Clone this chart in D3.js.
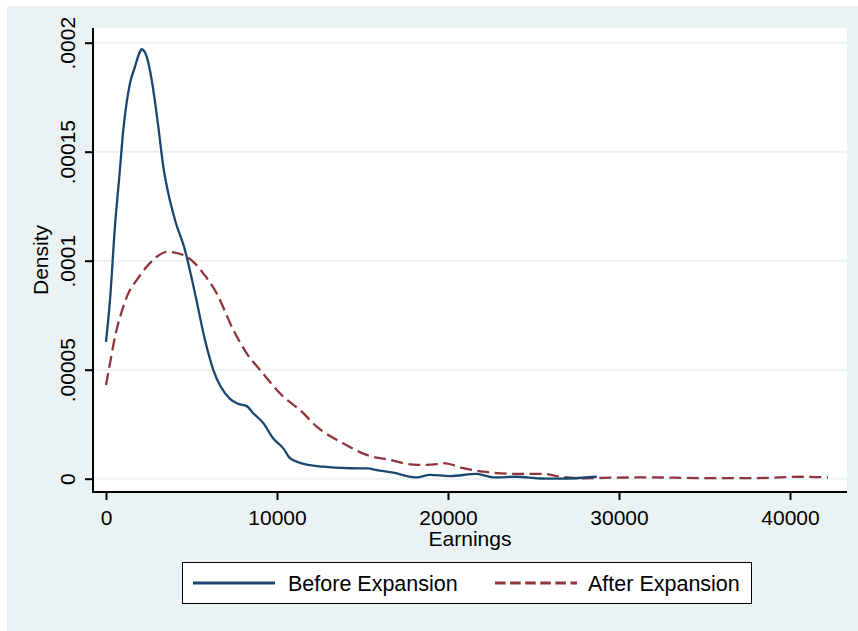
<!DOCTYPE html>
<html>
<head>
<meta charset="utf-8">
<script src="https://d3js.org/d3.v7.min.js"></script>
<style>
  body { margin: 0; background: #ffffff; }
  text { font-family: "Liberation Sans", Arial, Helvetica, sans-serif; fill: #000; }
</style>
</head>
<body>
<div id="chart"></div>
<script>

// earnings values (x)
var beforeEarn = [0, 234, 526, 778, 1012, 1404, 1696, 1988, 2088, 2380, 2673, 3058, 3351, 3643,
  4035, 4620, 5205, 5789, 6275, 7251, 7737, 8228, 8614, 9199, 9784, 10368, 10760, 11345,
  12708, 14269, 15246, 16023, 16801, 18170, 18947, 20117, 21678, 22649, 24018, 25380, 26550, 28696];
var beforeDens = [6.28e-5, 8.2e-5, 1.16e-4, 1.385e-4, 1.60e-4, 1.814e-4, 1.89e-4, 1.959e-4, 1.97e-4,
  1.936e-4, 1.829e-4, 1.615e-4, 1.431e-4, 1.309e-4, 1.187e-4, 1.048e-4, 8.5e-5, 6.36e-5, 4.99e-5,
  3.66e-5, 3.43e-5, 3.33e-5, 3.0e-5, 2.55e-5, 1.84e-5, 1.39e-5, 9.4e-6, 7.3e-6, 5.5e-6, 4.8e-6,
  4.7e-6, 3.7e-6, 2.75e-6, 6e-7, 1.8e-6, 1.2e-6, 2.2e-6, 6e-7, 9e-7, 1e-7, 0, 9e-7];

var afterEarn = [0, 234, 526, 916, 1304, 1795, 2380, 2965, 3550, 4035, 4520, 5105, 5690, 6474,
  7450, 8228, 9006, 10368, 11345, 12322, 13877, 15246, 16608, 18170, 19339, 19731, 20901, 22070,
  24018, 25579, 26550, 27914, 29864, 31813, 35000, 38000, 40760, 42222];
var afterDens = [4.3e-5, 5.29e-5, 6.51e-5, 7.66e-5, 8.5e-5, 9.11e-5, 9.72e-5, 1.018e-4, 1.041e-4,
  1.037e-4, 1.026e-4, 9.95e-5, 9.42e-5, 8.5e-5, 6.82e-5, 5.75e-5, 4.99e-5, 3.76e-5, 3.15e-5,
  2.39e-5, 1.62e-5, 1.09e-5, 8.6e-6, 6.3e-6, 6.7e-6, 7.1e-6, 4.8e-6, 3.2e-6, 2.2e-6, 2.2e-6,
  9e-7, 2e-7, 5e-7, 6e-7, 3e-7, 3e-7, 9e-7, 6e-7];

var xTicks = [0, 10000, 20000, 30000, 40000];
var yTicks = [0, 0.00005, 0.0001, 0.00015, 0.0002];
var yTickLabels = ["0", ".00005", ".0001", ".00015", ".0002"];
var seriesNames = ["Before Expansion", "After Expansion"];

var svgWidth = 858;
var svgHeight = 631;

// plot region inside the graph
var plot = { left: 93, right: 847, top: 28, bottom: 492 };

var svg = d3.select("#chart")
  .append("svg")
  .attr("width", svgWidth)
  .attr("height", svgHeight);

// outer graph background
svg.append("rect")
  .attr("x", 7)
  .attr("y", 6)
  .attr("width", svgWidth - 7)
  .attr("height", svgHeight - 6)
  .attr("fill", "#eaf2f3");

// plot region
svg.append("rect")
  .attr("x", plot.left)
  .attr("y", plot.top)
  .attr("width", plot.right - plot.left)
  .attr("height", plot.bottom - plot.top)
  .attr("fill", "#ffffff");

// scales
var xScale = d3.scaleLinear()
  .domain([0, 40000])
  .range([106, 790]);
var yScale = d3.scaleLinear()
  .domain([0, 0.0002])
  .range([478.7, 42.7]);

// gridlines
svg.append("g")
  .selectAll("line")
  .data(yTicks)
  .enter()
  .append("line")
  .attr("x1", plot.left)
  .attr("x2", plot.right)
  .attr("y1", d => yScale(d))
  .attr("y2", d => yScale(d))
  .attr("stroke", "#eaf2f3")
  .attr("stroke-width", 2);

// axes
var xAxis = d3.axisBottom(xScale).tickValues(xTicks).tickSize(8).tickFormat(d3.format("d"));
var yAxis = d3.axisLeft(yScale).tickValues(yTicks).tickSize(8).tickFormat((d, i) => yTickLabels[i]);

var xg = svg.append("g")
  .attr("transform", `translate(0, ${plot.bottom})`)
  .call(xAxis);
xg.select(".domain").remove();
xg.selectAll("line").attr("stroke", "#000").attr("stroke-width", 2);
xg.selectAll("text")
  .attr("y", 0)
  .attr("dy", 0)
  .attr("transform", "translate(0, 33)")
  .style("font-size", "21px")
  .style("font-family", "'Liberation Sans', Arial, sans-serif");

var yg = svg.append("g")
  .attr("transform", `translate(${plot.left}, 0)`)
  .call(yAxis);
yg.select(".domain").remove();
yg.selectAll("line").attr("stroke", "#000").attr("stroke-width", 2);
yg.selectAll("text")
  .attr("x", 0)
  .attr("dy", 0)
  .attr("text-anchor", "middle")
  .attr("transform", "translate(-18, 0) rotate(-90)")
  .style("font-size", "21px")
  .style("font-family", "'Liberation Sans', Arial, sans-serif");

// axis lines
svg.append("line")
  .attr("x1", plot.left).attr("x2", plot.left)
  .attr("y1", plot.top).attr("y2", plot.bottom + 1)
  .attr("stroke", "#000").attr("stroke-width", 2);
svg.append("line")
  .attr("x1", plot.left - 1).attr("x2", plot.right)
  .attr("y1", plot.bottom).attr("y2", plot.bottom)
  .attr("stroke", "#000").attr("stroke-width", 2);

// axis titles
svg.append("text")
  .attr("x", (plot.left + plot.right) / 2)
  .attr("y", 546)
  .attr("text-anchor", "middle")
  .style("font-size", "21px")
  .text("Earnings");

svg.append("text")
  .attr("transform", "translate(48, " + ((plot.top + plot.bottom) / 2) + ") rotate(-90)")
  .attr("text-anchor", "middle")
  .style("font-size", "21px")
  .text("Density");

// density lines
var beforeData = beforeEarn.map((v, i) => ({ x: v, y: beforeDens[i] }));
var afterData = afterEarn.map((v, i) => ({ x: v, y: afterDens[i] }));

var line = d3.line()
  .x(d => xScale(d.x))
  .y(d => yScale(d.y))
  .curve(d3.curveMonotoneX);

svg.append("path")
  .datum(afterData)
  .attr("d", line)
  .attr("fill", "none")
  .attr("stroke", "#90353b")
  .attr("stroke-width", 2.3)
  .attr("stroke-dasharray", "12,5.5");

svg.append("path")
  .datum(beforeData)
  .attr("d", line)
  .attr("fill", "none")
  .attr("stroke", "#1a476f")
  .attr("stroke-width", 2.3);

// legend
var legend = svg.append("g");
legend.append("rect")
  .attr("x", 182.5)
  .attr("y", 562.5)
  .attr("width", 569)
  .attr("height", 41)
  .attr("fill", "#ffffff")
  .attr("stroke", "#000")
  .attr("stroke-width", 1);

var legendItems = [
  { name: seriesNames[0], color: "#1a476f", dash: null, x1: 193, x2: 275, tx: 288 },
  { name: seriesNames[1], color: "#90353b", dash: "10.5,4.6", x1: 495, x2: 577, tx: 588 }
];

legendItems.forEach(function(d) {
  legend.append("line")
    .attr("x1", d.x1).attr("x2", d.x2)
    .attr("y1", 583).attr("y2", 583)
    .attr("stroke", d.color)
    .attr("stroke-width", 3)
    .attr("stroke-dasharray", d.dash);
  legend.append("text")
    .attr("x", d.tx)
    .attr("y", 591)
    .style("font-size", "21.5px")
    .text(d.name);
});

</script>
</body>
</html>
